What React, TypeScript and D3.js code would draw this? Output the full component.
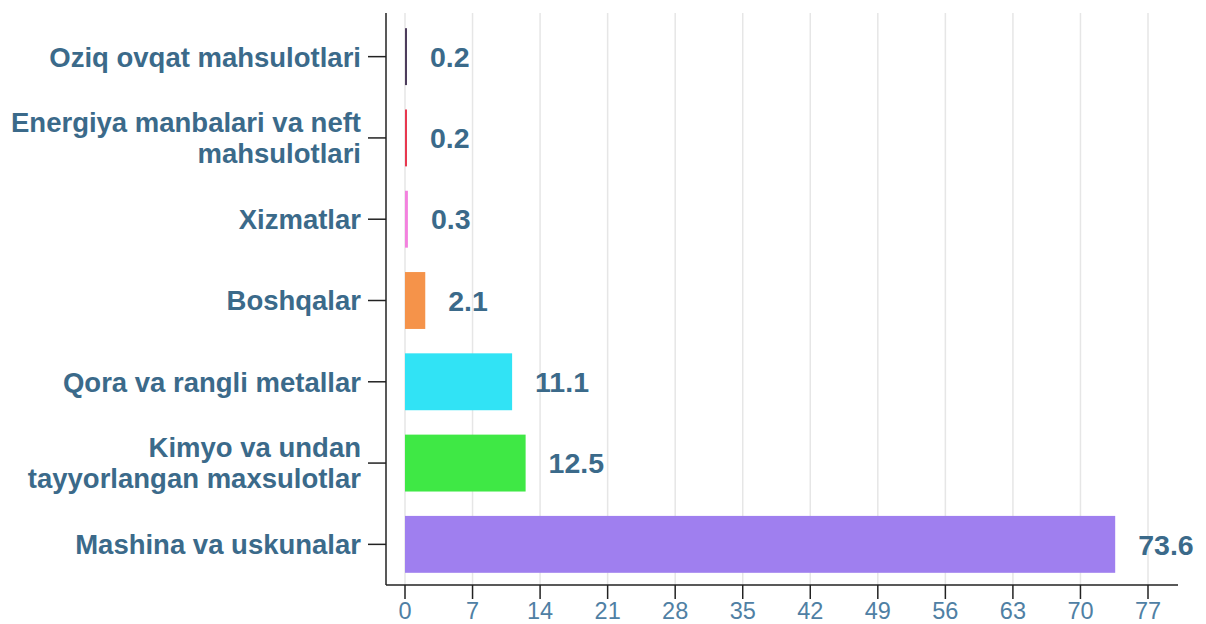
import React from "react";
import * as d3 from "d3";

const categories = [
  "Oziq ovqat mahsulotlari",
  "Energiya manbalari va neft mahsulotlari",
  "Xizmatlar",
  "Boshqalar",
  "Qora va rangli metallar",
  "Kimyo va undan tayyorlangan maxsulotlar",
  "Mashina va uskunalar",
];
const labelLines = [
  ["Oziq ovqat mahsulotlari"],
  ["Energiya manbalari va neft", "mahsulotlari"],
  ["Xizmatlar"],
  ["Boshqalar"],
  ["Qora va rangli metallar"],
  ["Kimyo va undan", "tayyorlangan maxsulotlar"],
  ["Mashina va uskunalar"],
];
const values = [0.2, 0.2, 0.3, 2.1, 11.1, 12.5, 73.6];
const colors = ["#4d3d5c", "#e8384f", "#f381de", "#f5934a", "#31e3f5", "#3fe845", "#9f7fef"];
const xTicks = [0, 7, 14, 21, 28, 35, 42, 49, 56, 63, 70, 77];

export default function App() {
  const W = 1206, H = 624;
  const axisX = 386;
  const x = d3.scaleLinear().domain([0, 77]).range([405, 1148]);
  const y = d3.scaleBand().domain(categories).range([16, 585]).paddingInner(0.3).paddingOuter(0.15);
  const axisBottom = 585;
  const labelColor = "#3b6a8a";
  const font = "'Liberation Sans', Arial, sans-serif";
  return (
    <svg width={W} height={H} style={{ position: "absolute", left: 0, top: 0 }} fontFamily={font}>
      {xTicks.map((t) => (
        <line key={"g" + t} x1={x(t)} x2={x(t)} y1={13} y2={axisBottom} stroke="#e6e6e6" strokeWidth={1.5} />
      ))}
      {categories.map((c, i) => (
        <rect key={c} x={x(0)} y={y(c)} width={Math.max(x(values[i]) - x(0), 2)} height={y.bandwidth()} fill={colors[i]} />
      ))}
      {categories.map((c, i) => (
        <text key={"v" + c} x={x(values[i]) + 23} y={(y(c) as number) + y.bandwidth() / 2} dy="0.36em"
          fontSize={28.5} fontWeight="bold" fill={labelColor}>
          {values[i].toFixed(1)}
        </text>
      ))}
      <line x1={axisX} x2={axisX} y1={13} y2={axisBottom} stroke="#222" strokeWidth={1.5} />
      <line x1={axisX} x2={1178} y1={axisBottom} y2={axisBottom} stroke="#222" strokeWidth={1.5} />
      {xTicks.map((t) => (
        <g key={"t" + t}>
          <line x1={x(t)} x2={x(t)} y1={axisBottom} y2={599} stroke="#222" strokeWidth={1.5} />
          <text x={x(t)} y={619} textAnchor="middle" fontSize={23.5} fill="#4f80a4">{t}</text>
        </g>
      ))}
      {categories.map((c, i) => {
        const cy = (y(c) as number) + y.bandwidth() / 2;
        const lines = labelLines[i];
        const lh = 31;
        return (
          <g key={"l" + c}>
            <line x1={368} x2={axisX} y1={cy} y2={cy} stroke="#222" strokeWidth={1.5} />
            {lines.map((ln, j) => (
              <text key={j} x={361} y={cy + (j - (lines.length - 1) / 2) * lh} dy="0.36em" textAnchor="end"
                fontSize={27.5} fontWeight="bold" fill={labelColor}>
                {ln}
              </text>
            ))}
          </g>
        );
      })}
    </svg>
  );
}
